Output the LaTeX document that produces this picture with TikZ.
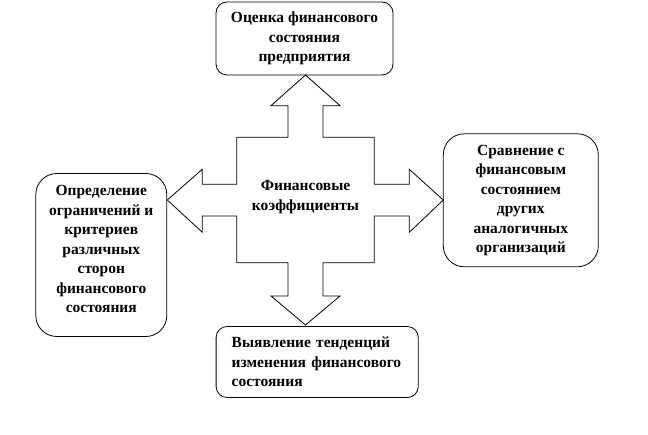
\documentclass[tikz,border=0pt]{standalone}
\usepackage{fontspec}
\setmainfont{Liberation Serif}
\usetikzlibrary{calc}

\begin{document}
\begin{tikzpicture}[x=1pt,y=-1pt]
            \useasboundingbox (0,0) rectangle (648,435);
            \tikzset{BoxStyle/.style={draw,line width=0.8pt,align=center,inner sep=0pt,
                font=\bfseries\fontsize{15.5}{19.5}\selectfont}};
            \tikzset{CrossStyle/.style={draw,line width=0.8pt,line join=miter}};

            % four boxes round the cross
            \node[BoxStyle,rounded corners=11pt,minimum width=177pt,minimum height=73pt]
                (ocenka) at (304.5,38.5) {Оценка финансового\\состояния\\предприятия};
            \node[BoxStyle,rounded corners=21pt,minimum width=131pt,minimum height=163pt]
                (opred) at (101.3,255) {};
            \node[BoxStyle,draw=none] (opredtext) at (101.3,249)
                {Определение\\ограничений и\\критериев\\различных\\сторон\\финансового\\состояния};
            \node[BoxStyle,rounded corners=21pt,minimum width=155pt,minimum height=133pt]
                (sravn) at (520.8,200.3) {Сравнение с\\финансовым\\состоянием\\других\\аналогичных\\организаций};
            \node[BoxStyle,rounded corners=11pt,align=left,text width=171pt,inner xsep=15.6pt,
                minimum height=71pt] (vyjavl) at (317.2,362) {Выявление тенденций\\изменения финансового\\состояния};

            % cross with four arrows
            \draw[CrossStyle] (305.5,75) -- (340,105.7) -- (323,105.7) -- (323,137.3)
                -- (374.3,137.3) -- (374.3,184.3) -- (409.3,184.3) -- (409.3,169.3)
                -- (443.3,200) -- (409.3,232.3) -- (409.3,216) -- (374.3,216)
                -- (374.3,262.7) -- (323,262.7) -- (323,296) -- (340,296)
                -- (305.5,325) -- (271,296) -- (288,296) -- (288,262.7)
                -- (236.7,262.7) -- (236.7,216) -- (202.3,216) -- (202.3,232.3)
                -- (167.3,200) -- (202.3,169.3) -- (202.3,184.3) -- (236.7,184.3)
                -- (236.7,137.3) -- (288,137.3) -- (288,105.7) -- (271,105.7) -- cycle;

            \node[BoxStyle,draw=none] (koef) at (305.5,197) {Финансовые\\коэффициенты};
\end{tikzpicture}
\end{document}
